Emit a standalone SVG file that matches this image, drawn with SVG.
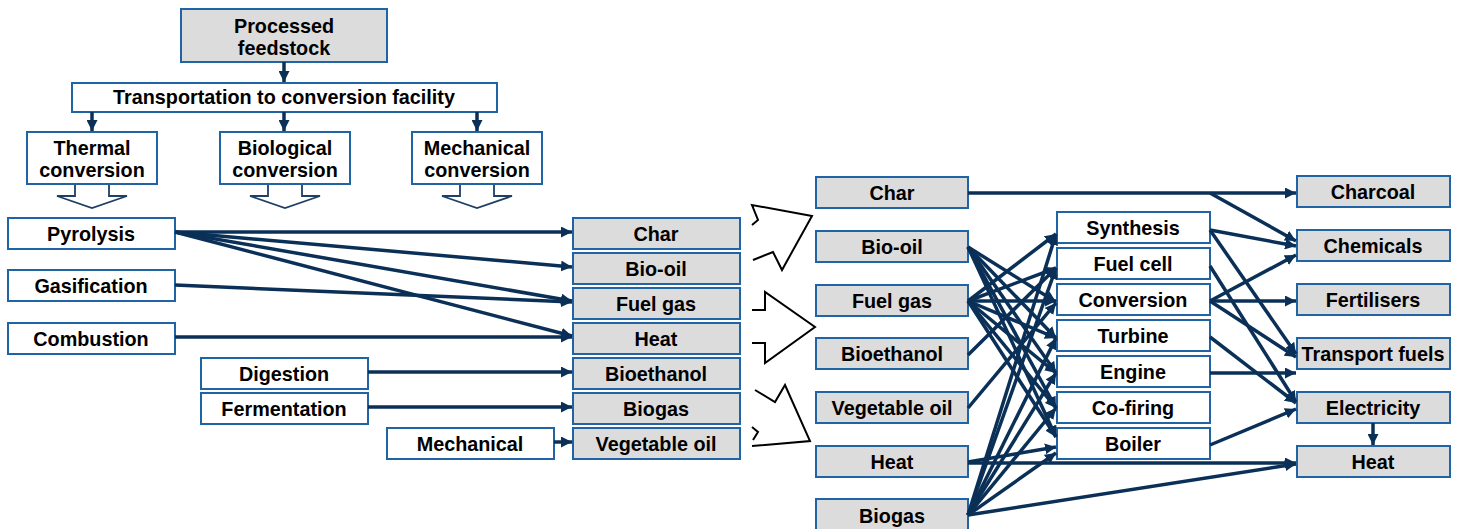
<svg xmlns="http://www.w3.org/2000/svg" width="1461" height="529" viewBox="0 0 1461 529">
<defs>
<style>
.b{stroke:#2164a6;stroke-width:2}
.g{fill:#dcdcdc}
.w{fill:#fff}
text{font-family:"Liberation Sans",Arial,sans-serif;font-weight:bold;font-size:19.8px;fill:#000;text-anchor:middle}
.c path{fill:none;stroke:#0b3057;stroke-width:3.5;marker-end:url(#ah)}
.h{fill:#fff;stroke:#1f3f66;stroke-width:1.8}
.z{fill:none;stroke:#000;stroke-width:2;stroke-linejoin:miter}
</style>
<marker id="ah" viewBox="0 0 10 10" refX="10" refY="5" markerWidth="11" markerHeight="11" markerUnits="userSpaceOnUse" orient="auto"><path d="M0,0 L10,5 L0,10 z" fill="#0b3057"/></marker>
</defs>
<rect width="1461" height="529" fill="#fff"/>

<!-- top section -->
<g id="processed"><rect class="b g" x="181" y="9" width="206" height="53"/><text x="284" y="33">Processed</text><text x="284" y="55">feedstock</text></g>
<g id="transport"><rect class="b w" x="72" y="83" width="425" height="29"/><text x="284" y="104">Transportation to conversion facility</text></g>
<g id="thermal"><rect class="b w" x="27" y="132" width="130" height="52"/><text x="92" y="155">Thermal</text><text x="92" y="177">conversion</text>
<path class="h" d="M75,185 V196 H57 L92,208 L127,196 H109 V185"/></g>
<g id="biological"><rect class="b w" x="220" y="132" width="130" height="52"/><text x="285" y="155">Biological</text><text x="285" y="177">conversion</text>
<path class="h" d="M268,185 V196 H250 L285,208 L320,196 H302 V185"/></g>
<g id="mechanicalconv"><rect class="b w" x="412" y="132" width="130" height="52"/><text x="477" y="155">Mechanical</text><text x="477" y="177">conversion</text>
<path class="h" d="M460,185 V196 H442 L477,208 L512,196 H494 V185"/></g>

<!-- processes -->
<g id="pyrolysis"><rect class="b w" x="8" y="218" width="167" height="31"/><text x="91" y="241">Pyrolysis</text></g>
<g id="gasification"><rect class="b w" x="8" y="270" width="167" height="31"/><text x="91" y="293">Gasification</text></g>
<g id="combustion"><rect class="b w" x="8" y="323" width="167" height="31"/><text x="91" y="346">Combustion</text></g>
<g id="digestion"><rect class="b w" x="201" y="358" width="167" height="31"/><text x="284" y="381">Digestion</text></g>
<g id="fermentation"><rect class="b w" x="201" y="393" width="167" height="31"/><text x="284" y="416">Fermentation</text></g>
<g id="mechanical"><rect class="b w" x="387" y="428" width="167" height="31"/><text x="470" y="451">Mechanical</text></g>

<!-- products -->
<g id="p-char"><rect class="b g" x="573" y="218" width="167" height="31"/><text x="656" y="241">Char</text></g>
<g id="p-biooil"><rect class="b g" x="573" y="253" width="167" height="31"/><text x="656" y="276">Bio-oil</text></g>
<g id="p-fuelgas"><rect class="b g" x="573" y="288" width="167" height="31"/><text x="656" y="311">Fuel gas</text></g>
<g id="p-heat"><rect class="b g" x="573" y="323" width="167" height="31"/><text x="656" y="346">Heat</text></g>
<g id="p-bioethanol"><rect class="b g" x="573" y="358" width="167" height="31"/><text x="656" y="381">Bioethanol</text></g>
<g id="p-biogas"><rect class="b g" x="573" y="393" width="167" height="31"/><text x="656" y="416">Biogas</text></g>
<g id="p-vegoil"><rect class="b g" x="573" y="428" width="167" height="31"/><text x="656" y="451">Vegetable oil</text></g>

<!-- zigzag arrows -->
<g id="bigarrows">
<path class="z" d="M752,225 L758,220 L752,205 L812,216 L782,270 L773,252 L753,260"/>
<path class="z" d="M752,310 L765,310 L765,292 L815,327 L765,363 L765,343 L752,343"/>
<path class="z" d="M755,390 L775,402 L785,385 L810,441 L752,446"/>
<path class="z" d="M752,427 L758,432 L753,440"/>
</g>

<!-- right panel: sources -->
<g id="r-char"><rect class="b g" x="816" y="177" width="152" height="31"/><text x="892" y="200">Char</text></g>
<g id="r-biooil"><rect class="b g" x="816" y="231" width="152" height="31"/><text x="892" y="254">Bio-oil</text></g>
<g id="r-fuelgas"><rect class="b g" x="816" y="285" width="152" height="31"/><text x="892" y="308">Fuel gas</text></g>
<g id="r-bioethanol"><rect class="b g" x="816" y="338" width="152" height="31"/><text x="892" y="361">Bioethanol</text></g>
<g id="r-vegoil"><rect class="b g" x="816" y="392" width="152" height="31"/><text x="892" y="415">Vegetable oil</text></g>
<g id="r-heat"><rect class="b g" x="816" y="446" width="152" height="31"/><text x="892" y="469">Heat</text></g>
<g id="r-biogas"><rect class="b g" x="816" y="499" width="152" height="31"/><text x="892" y="523">Biogas</text></g>

<!-- middle technologies -->
<g id="synthesis"><rect class="b w" x="1057" y="212" width="153" height="31"/><text x="1133" y="235">Synthesis</text></g>
<g id="fuelcell"><rect class="b w" x="1057" y="248" width="153" height="31"/><text x="1133" y="271">Fuel cell</text></g>
<g id="conversion"><rect class="b w" x="1057" y="284" width="153" height="31"/><text x="1133" y="307">Conversion</text></g>
<g id="turbine"><rect class="b w" x="1057" y="320" width="153" height="31"/><text x="1133" y="343">Turbine</text></g>
<g id="engine"><rect class="b w" x="1057" y="356" width="153" height="31"/><text x="1133" y="379">Engine</text></g>
<g id="cofiring"><rect class="b w" x="1057" y="392" width="153" height="31"/><text x="1133" y="415">Co-firing</text></g>
<g id="boiler"><rect class="b w" x="1057" y="428" width="153" height="31"/><text x="1133" y="451">Boiler</text></g>

<!-- outputs -->
<g id="charcoal"><rect class="b g" x="1297" y="176" width="153" height="31"/><text x="1373" y="199">Charcoal</text></g>
<g id="chemicals"><rect class="b g" x="1297" y="230" width="153" height="31"/><text x="1373" y="253">Chemicals</text></g>
<g id="fertilisers"><rect class="b g" x="1297" y="284" width="153" height="31"/><text x="1373" y="307">Fertilisers</text></g>
<g id="transportfuels"><rect class="b g" x="1297" y="338" width="153" height="31"/><text x="1373" y="361">Transport fuels</text></g>
<g id="electricity"><rect class="b g" x="1297" y="392" width="153" height="31"/><text x="1373" y="415">Electricity</text></g>
<g id="o-heat"><rect class="b g" x="1297" y="446" width="153" height="31"/><text x="1373" y="469">Heat</text></g>

<!-- connectors -->
<g class="c" id="connectors">
<path d="M284,62 V82"/>
<path d="M92,112 V131"/>
<path d="M284,112 V131"/>
<path d="M477,112 V131"/>

<path d="M175,232 L572,232"/>
<path d="M175,232 L572,267"/>
<path d="M175,232 L572,301"/>
<path d="M175,232 L572,336"/>
<path d="M175,285 L572,302"/>
<path d="M175,337 L572,337"/>
<path d="M368,372 L572,372"/>
<path d="M368,407 L572,407"/>
<path d="M554,442 L572,442"/>

<path d="M968,247 L1056,302"/>
<path d="M968,247 L1056,338"/>
<path d="M968,247 L1056,373"/>
<path d="M968,247 L1056,408"/>
<path d="M968,247 L1056,437"/>
<path d="M968,301 L1056,234"/>
<path d="M968,301 L1056,268"/>
<path d="M968,301 L1056,301"/>
<path d="M968,301 L1056,338"/>
<path d="M968,301 L1056,373"/>
<path d="M968,301 L1056,408"/>
<path d="M968,301 L1056,437"/>
<path d="M968,355 L1056,268"/>
<path d="M968,408 L1056,303"/>
<path d="M968,462 L1056,447"/>
<path d="M968,515 L1056,234"/>
<path d="M968,515 L1056,268"/>
<path d="M968,515 L1056,338"/>
<path d="M968,515 L1056,373"/>
<path d="M968,515 L1056,408"/>
<path d="M968,515 L1056,453"/>

<path d="M968,193 L1296,193"/>
<path d="M1210,193 L1296,241"/>
<path d="M1210,230 L1296,246"/>
<path d="M1210,230 L1296,354"/>
<path d="M1210,266 L1296,402"/>
<path d="M1210,301 L1296,255"/>
<path d="M1210,301 L1296,301"/>
<path d="M1210,301 L1296,357"/>
<path d="M1210,337 L1296,403"/>
<path d="M1210,373 L1296,373"/>
<path d="M1210,445 L1296,409"/>
<path d="M968,463 L1296,463"/>
<path d="M968,515 L1296,464"/>
<path d="M1373,423 L1373,445"/>
</g>
</svg>
